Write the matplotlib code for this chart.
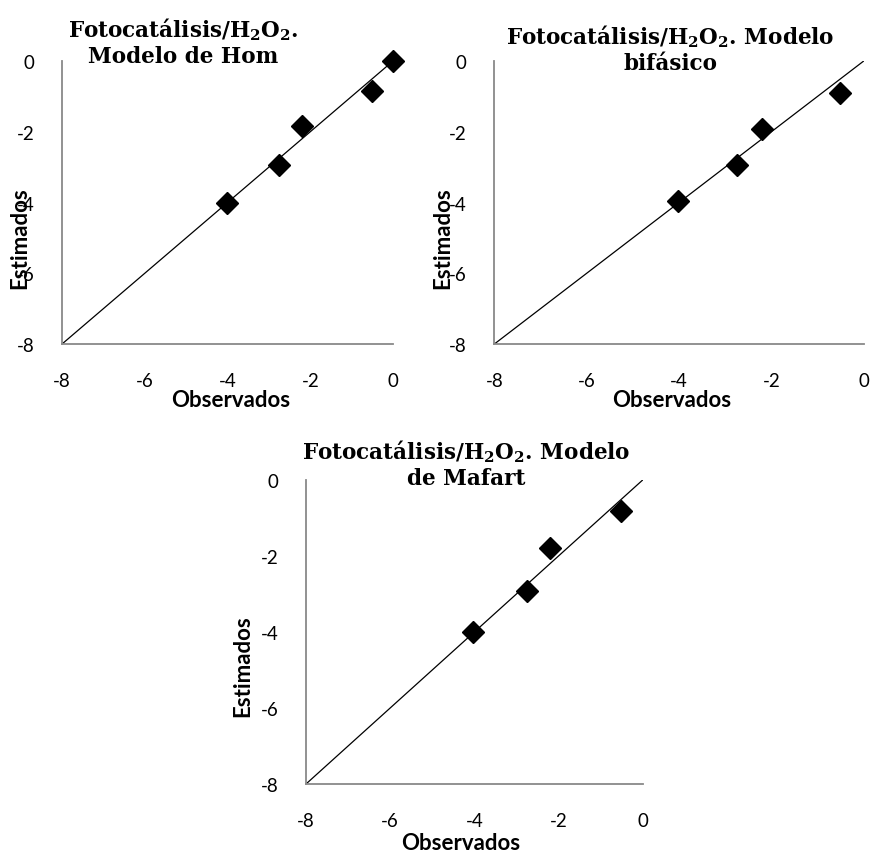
import matplotlib
matplotlib.use("Agg")
import matplotlib.pyplot as plt

# Observed vs. estimated log reductions for three kinetic models
observados = [-4.02, -2.75, -2.21, -0.51]
est_hom = [-4.02, -2.93, -1.83, -0.84]
obs_hom_extra = [0.0]
est_hom_extra = [0.0]
est_bifasico = [-3.97, -2.94, -1.92, -0.90]
est_mafart = [-4.01, -2.91, -1.80, -0.81]

ticks = [-8, -6, -4, -2, 0]
tick_labels = ["-8", "-6", "-4", "-2", "0"]
diag = [-8, 0]

plt.rcParams["mathtext.fontset"] = "dejavuserif"

fig = plt.figure(figsize=(8.72, 8.53), dpi=100)

tick_font = dict(family="Lato", size=13.5)
label_font = dict(family="Lato", size=16, weight="bold")
title_font = dict(family="DejaVu Serif", size=15.5, weight="bold")

panels = [
    # (rect, x, y, title, title x, title y, ylabel pos, xlabel pos)
    ([0.0711, 0.5955, 0.3796, 0.3318], observados + obs_hom_extra, est_hom + est_hom_extra,
     "Fotocatálisis/$\\mathbf{H_2O_2}$.\nModelo de Hom", 0.366, 1.07, (-0.097, 0.378), (0.51, -0.16)),
    ([0.5669, 0.5955, 0.4236, 0.3318], observados, est_bifasico,
     "Fotocatálisis/$\\mathbf{H_2O_2}$. Modelo\nbifásico", 0.476, 1.045, (-0.111, 0.378), (0.48, -0.16)),
    ([0.3509, 0.0797, 0.3861, 0.3564], observados, est_mafart,
     "Fotocatálisis/$\\mathbf{H_2O_2}$. Modelo\nde Mafart", 0.475, 1.055, (-0.157, 0.39), (0.46, -0.158)),
]

for rect, xs, ys, title, tx, ty, ylp, xlp in panels:
    ax = fig.add_axes(rect)
    ax.plot(diag, diag, color="black", linewidth=0.9, zorder=2)
    ax.plot(xs, ys, linestyle="none", marker="D", markersize=11,
            color="black", zorder=3, clip_on=False)
    ax.set_xlim(-8, 0)
    ax.set_ylim(-8, 0)
    ax.set_xticks(ticks)
    ax.set_yticks(ticks)
    ax.set_xticklabels(tick_labels, **tick_font)
    ax.set_yticklabels(tick_labels, **tick_font)
    ax.tick_params(length=0, pad=20)
    for side in ("top", "right"):
        ax.spines[side].set_visible(False)
    for side in ("left", "bottom"):
        ax.spines[side].set_color("#898989")
        ax.spines[side].set_linewidth(1.3)
    ax.set_xlabel("Observados", **label_font)
    ax.set_ylabel("Estimados", **label_font)
    ax.xaxis.set_label_coords(*xlp)
    ax.yaxis.set_label_coords(*ylp)
    ax.text(tx, ty, title, transform=ax.transAxes, ha="center", va="center",
            multialignment="center", linespacing=1.15, **title_font)

fig.savefig("out.png", dpi=100)
